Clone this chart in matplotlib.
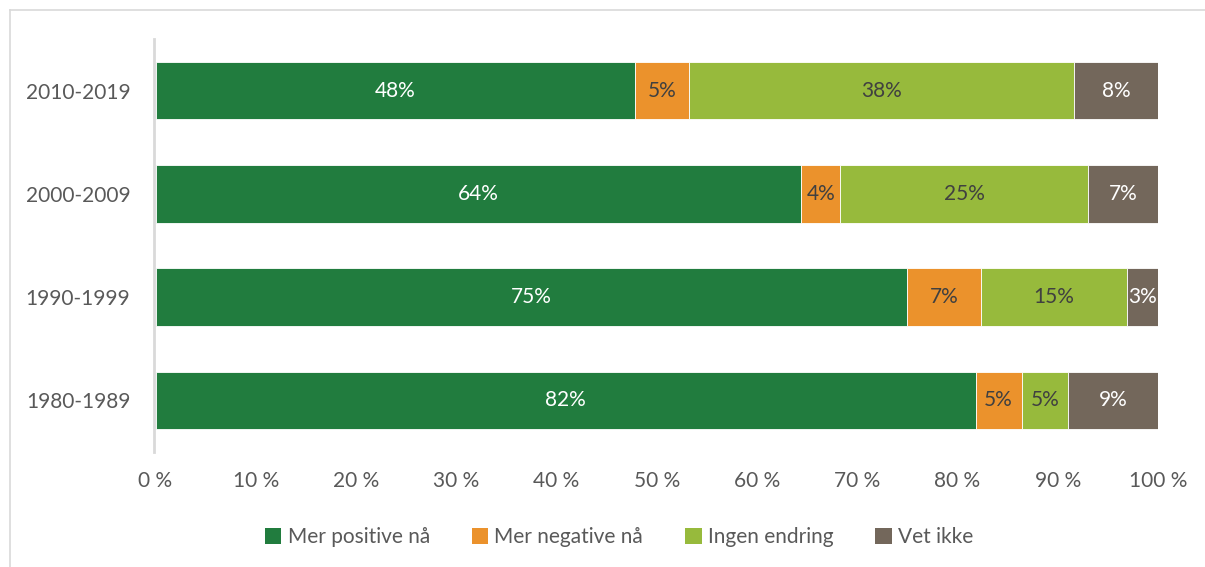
import matplotlib
matplotlib.use("Agg")
import matplotlib.pyplot as plt
from matplotlib.lines import Line2D
from matplotlib.patches import Patch
import numpy as np

plt.rcParams['font.family'] = ['Lato', 'DejaVu Sans']

# Decades (bottom to top) and answer shares in percent
periods = ["1980-1989", "1990-1999", "2000-2009", "2010-2019"]
mer_positive = [81.8, 75.0, 64.4, 47.8]
mer_negative = [4.6, 7.3, 3.9, 5.4]
ingen_endring = [4.6, 14.6, 24.7, 38.4]
vet_ikke = [9.0, 3.1, 7.0, 8.4]

series_names = ["Mer positive nå", "Mer negative nå", "Ingen endring", "Vet ikke"]
tick_labels = ["0 %", "10 %", "20 %", "30 %", "40 %", "50 %",
               "60 %", "70 %", "80 %", "90 %", "100 %"]

colors = ["#217c3e", "#eb922c", "#97ba3c", "#73675b"]
label_colors = ["white", "#404040", "#404040", "white"]

fig = plt.figure(figsize=(12.05, 5.67), dpi=100)
ax = fig.add_axes([155.5 / 1205, 1 - 452 / 567, (1158 - 155.5) / 1205, 413 / 567])

series = [mer_positive, mer_negative, ingen_endring, vet_ikke]
y = np.arange(len(periods))
left = np.zeros(len(periods))
for vals, col, lcol, name in zip(series, colors, label_colors, series_names):
    vals = np.array(vals)
    ax.barh(y, vals, left=left, height=0.557, color=col, edgecolor="white",
            linewidth=0.6, label=name)
    for yi, l, v in zip(y, left, vals):
        ax.text(l + v / 2, yi, f"{v:.0f}%", ha="center", va="center",
                color=lcol, fontsize=15)
    left += vals

ax.set_xlim(0, 100)
ax.set_ylim(-0.5, 3.5)
ax.set_xticks(np.arange(0, 101, 10))
ax.set_xticklabels(tick_labels)
ax.set_yticks(y)
ax.set_yticklabels(periods)
ax.tick_params(axis="both", length=0, labelsize=15, labelcolor="#595959")
ax.tick_params(axis="x", pad=14)
ax.tick_params(axis="y", pad=17)
for s in ["top", "right", "bottom"]:
    ax.spines[s].set_visible(False)
ax.spines["left"].set_color("#d9d9d9")
ax.spines["left"].set_linewidth(2)
ax.spines["left"].set_position(("data", -0.15))

handles = [Patch(facecolor=c, edgecolor="none") for c in colors]
fig.legend(handles, series_names, loc="center", ncol=4, frameon=False,
           bbox_to_anchor=(619 / 1205, 1 - 537 / 567), fontsize=15,
           labelcolor="#595959", handlelength=0.8, handleheight=0.8,
           handletextpad=0.3, columnspacing=2.0)

# Chart-area border (top and left edges)
fig.add_artist(Line2D([10 / 1205, 1], [1 - 10 / 567, 1 - 10 / 567],
                      transform=fig.transFigure, color="#d9d9d9", lw=1.2))
fig.add_artist(Line2D([10 / 1205, 10 / 1205], [0, 1 - 10 / 567],
                      transform=fig.transFigure, color="#d9d9d9", lw=1.2))

fig.savefig("out.png", dpi=100)
